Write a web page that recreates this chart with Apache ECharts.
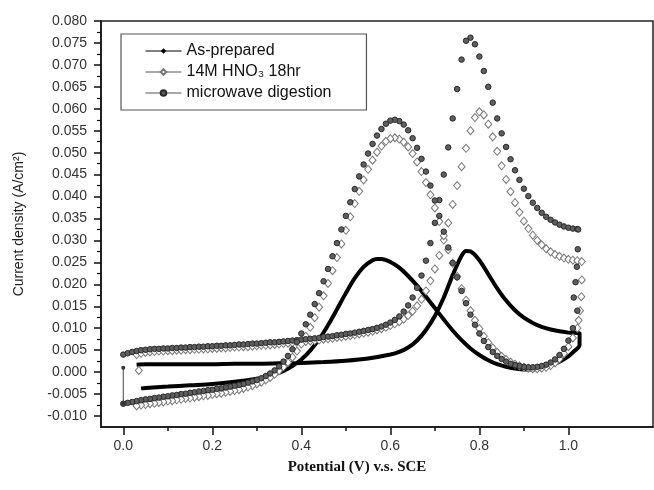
<!DOCTYPE html>
<html>
<head>
<meta charset="utf-8">
<script src="https://cdn.jsdelivr.net/npm/echarts@6/dist/echarts.min.js"></script>
<style>html,body{margin:0;padding:0;background:#fff}#c{width:654px;height:490px}</style>
</head>
<body>
<div id="c"></div>
<script>
// ---- axis ticks ----
const xMajor = [0.0, 0.2, 0.4, 0.6, 0.8, 1.0];
const xMinor = [0.1, 0.3, 0.5, 0.7, 0.9];
const yMajor = [-0.010,-0.005,0.000,0.005,0.010,0.015,0.020,0.025,0.030,0.035,0.040,0.045,0.050,0.055,0.060,0.065,0.070,0.075,0.080];
const yMinor = [-0.0075,-0.0025,0.0025,0.0075,0.0125,0.0175,0.0225,0.0275,0.0325,0.0375,0.0425,0.0475,0.0525,0.0575,0.0625,0.0675,0.0725,0.0775];

// ---- series names ----
const seriesNames = ['As-prepared', '14M HNO\u2083 18hr', 'microwave digestion'];

// ---- potential grid (V) ----
const gridX = [0.00,0.01,0.02,0.03,0.04,0.05,0.06,0.07,0.08,0.09,
0.10,0.11,0.12,0.13,0.14,0.15,0.16,0.17,0.18,0.19,
0.20,0.21,0.22,0.23,0.24,0.25,0.26,0.27,0.28,0.29,
0.30,0.31,0.32,0.33,0.34,0.35,0.36,0.37,0.38,0.39,
0.40,0.41,0.42,0.43,0.44,0.45,0.46,0.47,0.48,0.49,
0.50,0.51,0.52,0.53,0.54,0.55,0.56,0.57,0.58,0.59,
0.60,0.61,0.62,0.63,0.64,0.65,0.66,0.67,0.68,0.69,
0.70,0.71,0.72,0.73,0.74,0.75,0.76,0.77,0.78,0.79,
0.80,0.81,0.82,0.83,0.84,0.85,0.86,0.87,0.88,0.89,
0.90,0.91,0.92,0.93,0.94,0.95,0.96,0.97,0.98,0.99,
1.00,1.01,1.02];

// ---- microwave digestion: forward scan (x = gridX) ----
const mwFwd = [0.0040,0.0043,0.0046,0.0048,0.0050,0.0051,0.0052,0.0053,0.0053,0.0054,
0.0054,0.0055,0.0055,0.0056,0.0056,0.0057,0.0057,0.0058,0.0058,0.0059,
0.0059,0.0060,0.0060,0.0061,0.0061,0.0062,0.0063,0.0063,0.0064,0.0065,
0.0065,0.0066,0.0067,0.0068,0.0068,0.0069,0.0070,0.0071,0.0072,0.0073,
0.0074,0.0075,0.0076,0.0077,0.0078,0.0080,0.0081,0.0082,0.0084,0.0085,
0.0087,0.0088,0.0090,0.0092,0.0094,0.0096,0.0098,0.0101,0.0104,0.0108,
0.0113,0.0119,0.0127,0.0138,0.0152,0.0170,0.0192,0.0220,0.0254,0.0294,
0.0340,0.0392,0.0450,0.0512,0.0578,0.0645,0.0712,0.0755,0.0762,0.0747,
0.0719,0.0686,0.0650,0.0614,0.0578,0.0544,0.0513,0.0485,0.0460,0.0438,
0.0418,0.0401,0.0386,0.0374,0.0363,0.0354,0.0347,0.0341,0.0336,0.0332,
0.0329,0.0327,0.0326];
// microwave digestion: reverse scan (x = gridX)
const mwRev = [-0.0072,-0.0070,-0.0068,-0.0066,-0.0064,-0.0062,-0.0061,-0.0059,-0.0058,-0.0056,
-0.0055,-0.0053,-0.0052,-0.0050,-0.0049,-0.0047,-0.0046,-0.0044,-0.0043,-0.0041,
-0.0040,-0.0038,-0.0037,-0.0035,-0.0033,-0.0031,-0.0029,-0.0027,-0.0024,-0.0021,
-0.0018,-0.0014,-0.0009,-0.0003,0.0004,0.0013,0.0024,0.0037,0.0052,0.0069,
0.0088,0.0109,0.0131,0.0155,0.0180,0.0207,0.0235,0.0264,0.0294,0.0325,
0.0356,0.0387,0.0417,0.0446,0.0473,0.0498,0.0520,0.0539,0.0554,0.0566,
0.0573,0.0575,0.0572,0.0564,0.0551,0.0533,0.0511,0.0486,0.0457,0.0425,
0.0391,0.0356,0.0320,0.0284,0.0249,0.0216,0.0185,0.0157,0.0131,0.0108,
0.0088,0.0071,0.0057,0.0046,0.0037,0.0030,0.0024,0.0019,0.0016,0.0014,
0.0012,0.0011,0.0011,0.0012,0.0014,0.0017,0.0022,0.0029,0.0039,0.0053,
0.0072,0.0100,0.0140];
// microwave turn-around points at the upper potential limit
const mwTurn = [[1.022,0.0325],[1.021,0.0280],[1.019,0.0240],[1.016,0.0205],[1.012,0.0170]];
// microwave first recorded points at 0 V
const mwStart = [[0.0,0.0010],[0.0,-0.0072]];

// ---- 14M HNO3 18hr: forward scan (x = gridX from 0.03) ----
const hnFwd = [0.0040,0.0043,0.0045,0.0046,0.0047,0.0048,0.0048,
0.0049,0.0049,0.0050,0.0050,0.0051,0.0051,0.0052,0.0052,0.0053,0.0053,
0.0054,0.0054,0.0055,0.0055,0.0056,0.0057,0.0057,0.0058,0.0058,0.0059,
0.0060,0.0061,0.0061,0.0062,0.0063,0.0064,0.0065,0.0066,0.0067,0.0068,
0.0069,0.0070,0.0071,0.0072,0.0073,0.0075,0.0076,0.0077,0.0079,0.0080,
0.0082,0.0083,0.0085,0.0087,0.0089,0.0091,0.0093,0.0096,0.0099,0.0102,
0.0106,0.0110,0.0115,0.0121,0.0129,0.0139,0.0151,0.0166,0.0185,0.0208,
0.0235,0.0266,0.0301,0.0340,0.0382,0.0425,0.0468,0.0510,0.0550,0.0580,
0.0593,0.0586,0.0565,0.0536,0.0503,0.0470,0.0439,0.0411,0.0386,0.0364,
0.0344,0.0327,0.0312,0.0300,0.0290,0.0281,0.0274,0.0268,0.0264,0.0260,
0.0257,0.0255,0.0254];
// 14M HNO3 18hr: reverse scan (x = gridX from 0.03)
const hnRev = [-0.0077,-0.0075,-0.0074,-0.0072,-0.0071,-0.0069,-0.0068,
-0.0066,-0.0065,-0.0063,-0.0062,-0.0060,-0.0059,-0.0057,-0.0056,-0.0054,-0.0053,
-0.0051,-0.0049,-0.0048,-0.0046,-0.0044,-0.0042,-0.0040,-0.0037,-0.0034,-0.0031,
-0.0027,-0.0023,-0.0018,-0.0012,-0.0005,0.0003,0.0012,0.0022,0.0034,0.0048,
0.0064,0.0082,0.0102,0.0124,0.0148,0.0174,0.0202,0.0231,0.0261,0.0292,
0.0323,0.0354,0.0384,0.0412,0.0438,0.0462,0.0483,0.0501,0.0515,0.0526,
0.0532,0.0534,0.0531,0.0524,0.0513,0.0498,0.0479,0.0457,0.0432,0.0404,
0.0374,0.0343,0.0311,0.0279,0.0248,0.0218,0.0190,0.0164,0.0140,0.0118,
0.0099,0.0082,0.0067,0.0055,0.0045,0.0036,0.0029,0.0023,0.0018,0.0014,
0.0011,0.0009,0.0008,0.0008,0.0009,0.0011,0.0015,0.0021,0.0030,0.0042,
0.0058,0.0078,0.0100];
const hnStart = [[0.035,0.0004]];
const hnTurn = [[1.03,0.0252],[1.03,0.0210],[1.029,0.0172],[1.026,0.0140],[1.023,0.0118]];

// ---- As-prepared: forward and reverse scans ----
const apFwd = [[0.03,0.0017],[0.05,0.0018],[0.10,0.0018],[0.15,0.0018],[0.20,0.0018],[0.25,0.0019],
[0.30,0.0019],[0.35,0.0020],[0.40,0.0021],[0.45,0.0023],[0.50,0.0026],[0.55,0.0031],[0.60,0.0040],
[0.62,0.0046],[0.64,0.0056],[0.66,0.0072],[0.68,0.0096],[0.70,0.0128],[0.72,0.0170],[0.74,0.0221],
[0.76,0.0265],[0.77,0.0276],[0.78,0.0275],[0.80,0.0255],[0.82,0.0223],[0.84,0.0191],[0.86,0.0163],
[0.88,0.0141],[0.90,0.0124],[0.92,0.0112],[0.94,0.0103],[0.96,0.0097],[0.98,0.0093],[1.00,0.0090],[1.025,0.0088]];
const apRev = [[1.025,0.0062],[1.01,0.0045],[1.00,0.0036],[0.98,0.0024],[0.96,0.0015],[0.94,0.0009],
[0.92,0.0006],[0.90,0.0006],[0.88,0.0008],[0.86,0.0012],[0.84,0.0018],[0.82,0.0027],[0.80,0.0039],
[0.78,0.0054],[0.76,0.0073],[0.74,0.0095],[0.72,0.0120],[0.70,0.0146],[0.68,0.0172],[0.66,0.0197],
[0.64,0.0219],[0.62,0.0238],[0.60,0.0251],[0.58,0.0258],[0.57,0.0258],[0.56,0.0255],[0.54,0.0240],
[0.52,0.0214],[0.50,0.0180],[0.48,0.0143],[0.46,0.0107],[0.44,0.0075],[0.42,0.0049],[0.40,0.0029],
[0.38,0.0014],[0.36,0.0003],[0.34,-0.0005],[0.32,-0.0011],[0.30,-0.0015],[0.25,-0.0022],[0.20,-0.0027],
[0.15,-0.0030],[0.10,-0.0033],[0.05,-0.0036],[0.04,-0.0037]];

// ---- build series data ----
function zip(xs, ys) { return ys.map((y, i) => [xs[i], y]); }
const hnX = gridX.slice(3);
const mwData = zip(gridX, mwFwd).concat(mwTurn, zip(gridX, mwRev).reverse());
const hnData = hnStart.concat(zip(hnX, hnFwd), hnTurn, zip(hnX, hnRev).reverse());
const apData = apFwd.concat(apRev);

const FONT = "'Liberation Sans', Arial, sans-serif";
const chart = echarts.init(document.getElementById('c'), null, {renderer: 'canvas'});
chart.setOption({
  animation: false,
  backgroundColor: '#fff',
  grid: {left: 101, top: 21, right: 1, bottom: 63, show: true, borderColor: '#222', borderWidth: 1.5, backgroundColor: 'transparent'},
  legend: {
    orient: 'vertical', left: 121, top: 34,
    padding: [9, 35, 9, 24], itemGap: 5, itemWidth: 36, itemHeight: 7,
    borderColor: '#555', borderWidth: 1.2,
    textStyle: {fontFamily: FONT, fontSize: 16, color: '#111'},
    data: [
      {name: seriesNames[0], lineStyle: {color: '#000', width: 1, opacity: 1}},
      {name: seriesNames[1], lineStyle: {color: '#555', width: 1, opacity: 1}},
      {name: seriesNames[2], lineStyle: {color: '#555', width: 1, opacity: 1}}
    ]
  },
  xAxis: [{
    type: 'value', min: -0.05, max: 1.19,
    axisLine: {show: true, onZero: false, lineStyle: {color: '#111', width: 1.5}},
    axisTick: {show: true, customValues: xMajor, length: 8, lineStyle: {color: '#111', width: 1.5}},
    axisLabel: {customValues: xMajor, formatter: v => v.toFixed(1), fontFamily: FONT, fontSize: 14, color: '#333', margin: 12},
    splitLine: {show: false},
    name: 'Potential (V) v.s. SCE', nameLocation: 'middle', nameGap: 33,
    nameTextStyle: {fontFamily: "'Liberation Serif', 'Times New Roman', serif", fontWeight: 'bold', fontSize: 15, color: '#111', padding: [0, 40, 0, 0]}
  }, {
    type: 'value', min: -0.05, max: 1.19, position: 'bottom',
    axisLine: {show: false, onZero: false},
    axisTick: {show: true, customValues: xMinor, length: 4, lineStyle: {color: '#111', width: 1.5}},
    axisLabel: {show: false}, splitLine: {show: false}
  }],
  yAxis: [{
    type: 'value', min: -0.0125, max: 0.080,
    axisLine: {show: true, onZero: false, lineStyle: {color: '#111', width: 1.5}},
    axisTick: {show: true, customValues: yMajor, length: 7, lineStyle: {color: '#111', width: 1.5}},
    axisLabel: {customValues: yMajor, formatter: v => v.toFixed(3), fontFamily: FONT, fontSize: 14, color: '#333', margin: 14},
    splitLine: {show: false},
    name: 'Current density (A/cm\u00B2)', nameLocation: 'middle', nameGap: 75, nameRotate: 90,
    nameTextStyle: {fontFamily: FONT, fontSize: 14, color: '#222'}
  }, {
    type: 'value', min: -0.0125, max: 0.080, position: 'left',
    axisLine: {show: false, onZero: false},
    axisTick: {show: true, customValues: yMinor, length: 4, lineStyle: {color: '#111', width: 1.2}},
    axisLabel: {show: false}, splitLine: {show: false}
  }],
  series: [
    {
      name: seriesNames[0], type: 'line', data: apData, smooth: 0.3,
      symbol: 'diamond', symbolSize: 8, showSymbol: false,
      lineStyle: {color: '#000', width: 4}, itemStyle: {color: '#000'}, z: 2
    },
    {
      name: seriesNames[1], type: 'line', data: hnData,
      symbol: 'diamond', symbolSize: [7, 8],
      lineStyle: {width: 0, opacity: 0},
      itemStyle: {color: '#fff', borderColor: '#777', borderWidth: 1}, z: 3
    },
    {
      name: seriesNames[2], type: 'line', data: mwData,
      symbol: 'circle', symbolSize: 5.5,
      lineStyle: {width: 0, opacity: 0},
      itemStyle: {color: '#5e5e5e', borderColor: '#2a2a2a', borderWidth: 1}, z: 4
    },
    {
      name: 'mwStart', type: 'line', data: mwStart,
      symbol: 'circle', symbolSize: 4,
      lineStyle: {color: '#444', width: 1}, itemStyle: {color: '#333'}, z: 4, silent: true
    }
  ]
});
</script>
</body>
</html>
